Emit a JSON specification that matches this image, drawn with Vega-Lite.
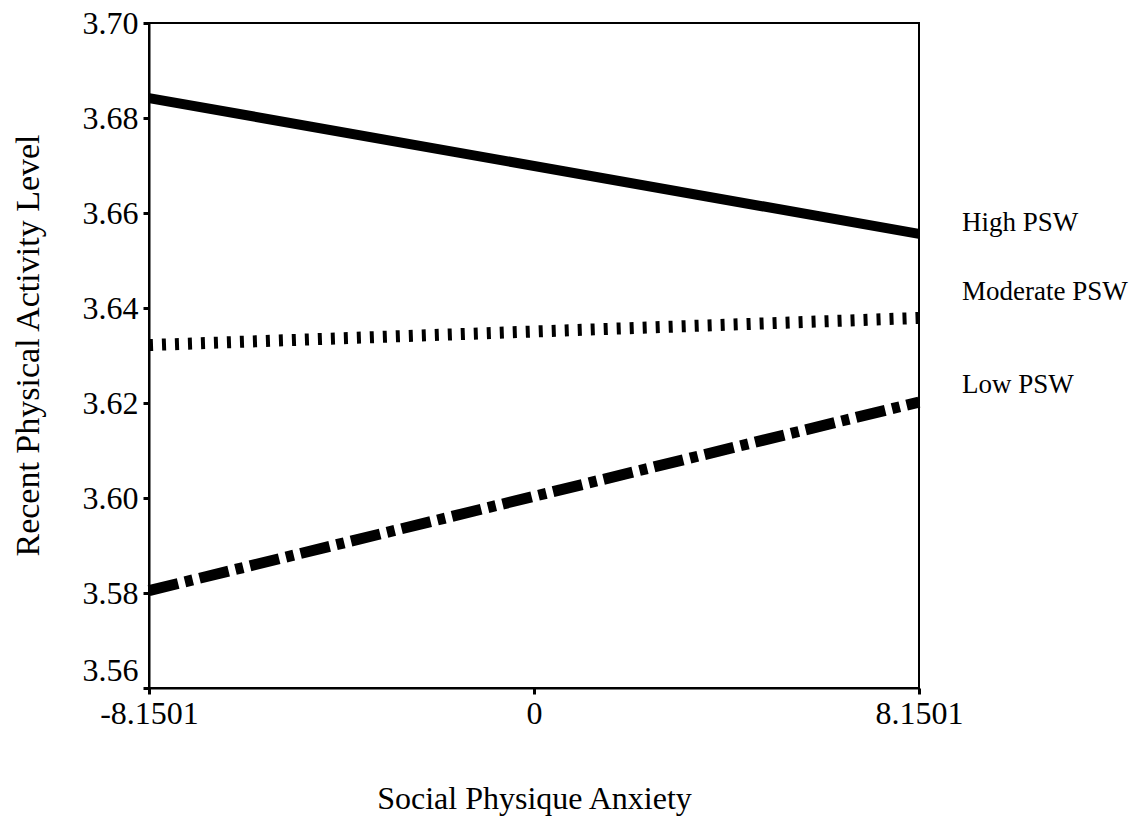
{
  "$schema": "https://vega.github.io/schema/vega-lite/v6.json",
  "width": 770,
  "height": 665,
  "autosize": {"type": "none"},
  "padding": {"left": 149, "top": 23, "right": 218, "bottom": 132},
  "background": "white",
  "config": {
    "font": "Liberation Serif",
    "view": {"stroke": "black", "strokeWidth": 2},
    "axis": {"grid": false, "domainColor": "black", "domainWidth": 2, "tickColor": "black", "labelColor": "black", "titleColor": "black", "labelFont": "Liberation Serif", "titleFont": "Liberation Serif", "titleFontWeight": "normal"}
  },
  "datasets": {
    "lines": [
      {"group": "High PSW", "spa": -8.1501, "pal": 3.6842},
      {"group": "High PSW", "spa": 8.1501, "pal": 3.6556},
      {"group": "Moderate PSW", "spa": -8.1501, "pal": 3.6322},
      {"group": "Moderate PSW", "spa": 8.1501, "pal": 3.6379},
      {"group": "Low PSW", "spa": -8.1501, "pal": 3.5805},
      {"group": "Low PSW", "spa": 8.1501, "pal": 3.6202}
    ],
    "labels": [
      {"group": "High PSW", "spa": 8.1501, "pal": 3.6579},
      {"group": "Moderate PSW", "spa": 8.1501, "pal": 3.6434},
      {"group": "Low PSW", "spa": 8.1501, "pal": 3.6238}
    ]
  },
  "encoding": {
    "x": {
      "field": "spa", "type": "quantitative",
      "scale": {"domain": [-8.1501, 8.1501], "nice": false, "zero": false},
      "axis": {"values": [-8.1501, 0, 8.1501], "labelExpr": "toString(datum.value)", "title": "Social Physique Anxiety", "labelFontSize": 32, "titleFontSize": 32, "tickSize": 6, "tickWidth": 3, "labelPadding": 4, "titlePadding": 54, "labelFlush": false}
    },
    "y": {
      "field": "pal", "type": "quantitative",
      "scale": {"domain": [3.56, 3.70], "nice": false, "zero": false},
      "axis": {"values": [3.56, 3.58, 3.60, 3.62, 3.64, 3.66, 3.68, 3.70], "format": ".2f", "title": "Recent Physical Activity Level", "labelFontSize": 32, "titleFontSize": 34, "titleX": -121, "titleY": 322, "titleBaseline": "middle", "titleAngle": -90, "tickSize": 6, "tickWidth": 3, "labelPadding": 5, "labelFlush": false, "labelOffset": {"condition": {"test": "datum.value < 3.565", "value": -18}, "value": 0}}
    }
  },
  "layer": [
    {
      "data": {"name": "lines"},
      "transform": [{"filter": "datum.group === 'High PSW'"}],
      "mark": {"type": "line", "color": "black", "strokeWidth": 10, "strokeCap": "butt"}
    },
    {
      "data": {"name": "lines"},
      "transform": [{"filter": "datum.group === 'Moderate PSW'"}],
      "mark": {"type": "line", "color": "black", "strokeWidth": 12, "strokeDash": [4, 9], "strokeCap": "butt"}
    },
    {
      "data": {"name": "lines"},
      "transform": [{"filter": "datum.group === 'Low PSW'"}],
      "mark": {"type": "line", "color": "black", "strokeWidth": 11, "strokeDash": [30, 7, 8, 7], "strokeCap": "butt"}
    },
    {
      "data": {"name": "labels"},
      "mark": {"type": "text", "align": "left", "baseline": "middle", "dx": 43, "fontSize": 27, "color": "black", "font": "Liberation Serif"},
      "encoding": {"text": {"field": "group"}}
    }
  ]
}
